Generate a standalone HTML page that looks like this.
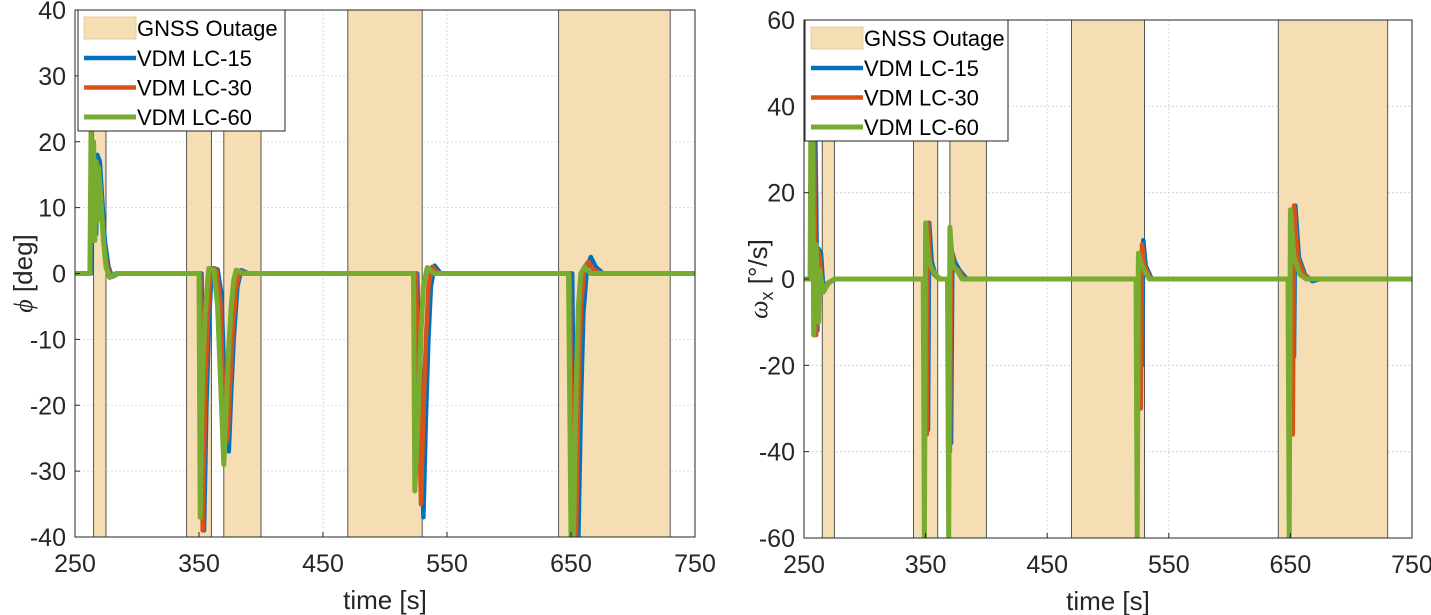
<!DOCTYPE html>
<html><head><meta charset="utf-8"><style>
html,body{margin:0;padding:0;background:#fff}
svg{display:block;font-family:"Liberation Sans",Arial,sans-serif}
</style></head><body>
<svg id="chart" width="1431" height="615"></svg>
<script>
const xTicks=[250,350,450,550,650,750];
const xTickLabels=["250","350","450","550","650","750"];
const outages=[[265,275],[340,360],[370,400],[470,530],[640,730]];
const leftYTicks=[40,30,20,10,0,-10,-20,-30,-40];
const rightYTicks=[60,40,20,0,-20,-40,-60];
const seriesNames=["VDM LC-15","VDM LC-30","VDM LC-60"];
const seriesColors=["#0072BD","#D95319","#77AC30"];
// roll angle phi [deg] -- [t, value]
const phi15=[[250,0],[263,0],[264,20],[265,5],[266,18],[267,6],[268,18],[270,17],[272,11],[274,5],[277,1],[280,-0.5],[285,0],[352,0],[354,-39],[355,-30],[356,-20],[358,-8],[360,0],[362,0.8],[365,0.6],[368,-3],[372,-24],[374,-27],[376,-18],[378,-10],[381,-2],[384,0.5],[390,0],[526,0],[531,-37],[533,-22],[535,-10],[537,-2],[540,1.2],[545,0],[651,0],[653,-40],[656,-40],[658,-20],[660,-6],[663,1],[666,2.5],[670,1],[676,0],[750,0]];
const phi30=[[250,0],[262,0],[263,21],[264,5],[265,19],[266,6],[267,17],[269,16],[271,11],[273,5],[276,1],[279,-0.5],[284,0],[351,0],[353,-39],[354,-28],[355,-18],[357,-7],[359,0],[361,0.8],[364,0.5],[367,-4],[371,-26],[373,-25],[375,-17],[377,-9],[380,-2],[383,0.4],[388,0],[525,0],[529,-35],[531,-21],[533,-10],[535,-2],[538,1],[543,0],[649,0],[651,-40],[654,-40],[656,-19],[658,-5],[661,1],[664,1.8],[668,0.6],[674,0],[750,0]];
const phi60=[[250,0],[262,0],[263,23],[264,5],[265,20],[266,5],[267,17],[268,8],[269,16],[271,11],[273,5],[275,1],[278,-0.6],[283,0],[350,0],[351,-37],[352,-25],[353,-15],[355,-6],[357,-1],[358,0.8],[362,0.5],[365,-5],[370,-29],[372,-20],[374,-11],[376,-5],[378,-1],[380,0.5],[386,0],[523,0],[524,-33],[526,-25],[527,-20],[529,-9],[531,-2],[534,0.9],[540,0],[648,0],[650,-40],[652,-40],[654,-18],[656,-5],[658,0],[661,1],[666,0],[750,0]];
// roll rate omega_x [deg/s]
const om15=[[250,0],[258,0],[259,40],[260,18],[261,-12],[262,7],[264,6],[266,-3],[270,-1],[276,0],[351,0],[352,-35],[353,13],[355,4],[358,1],[362,0],[370,0],[371,-38],[372,6],[374,4],[378,2],[384,0],[527,0],[528,-20],[529,9],[531,3],[536,0],[652,0],[653,-18],[654,17],[657,5],[662,1],[668,-0.5],[675,0],[750,0]];
const om30=[[250,0],[257,0],[258,40],[259,10],[260,-13],[261,7],[263,5],[265,-3],[269,-1],[275,0],[350,0],[351,-36],[352,13],[354,3],[357,1],[361,0],[369,0],[370,-40],[371,8],[373,3],[377,2],[382,0],[526,0],[527,-30],[528,8],[530,3],[535,0],[651,0],[652,-36],[653,17],[656,5],[661,1],[666,0],[750,0]];
const om60=[[250,0],[255,0],[256,60],[257,35],[258,-13],[260,8],[262,-10],[263,2],[264,0],[266,-3],[270,-1],[275,0],[348,0],[349,-60],[350,13],[352,5],[354,3],[358,1],[362,0],[368,0],[369,-60],[370,12],[372,3],[376,2],[380,0],[523,0],[524,-60],[525,6],[528,3],[534,0],[648,0],[649,-60],[650,16],[653,5],[658,1],[663,0],[750,0]];

const NS="http://www.w3.org/2000/svg";
const svg=document.getElementById('chart');
function mk(tag,attrs,parent){const e=document.createElementNS(NS,tag);for(const k in attrs)e.setAttribute(k,attrs[k]);(parent||svg).appendChild(e);return e;}

function panel(cfg){
  const {L,R,T,B,ymin,ymax,yTicks,series,legend,ylabel,name}=cfg;
  const g=mk('g',{});
  
  
  const sx=t=>L+(t-250)/(750-250)*(R-L);
  const sy=v=>T+(ymax-v)/(ymax-ymin)*(B-T);
  const clipId=name+'-clip';
  const cp=mk('clipPath',{id:clipId},g);mk('rect',{x:L,y:T,width:R-L,height:B-T},cp);
  xTicks.forEach(t=>{const l=mk('line',{x1:sx(t),x2:sx(t),y1:T,y2:B,stroke:'#d0d0d0','stroke-width':0.8,'stroke-dasharray':'2,2'},g);});
  yTicks.forEach(v=>{const l=mk('line',{x1:L,x2:R,y1:sy(v),y2:sy(v),stroke:'#d0d0d0','stroke-width':0.8,'stroke-dasharray':'2,2'},g);});
  outages.forEach(o=>{const r=mk('rect',{x:sx(o[0]),y:T,width:sx(o[1])-sx(o[0]),height:B-T,fill:'#F5DEB3',stroke:'#444','stroke-width':0.9},g);});
  const sg=mk('g',{'clip-path':'url(#'+clipId+')'},g);
  series.forEach((s,i)=>{const p=mk('polyline',{points:s.map(d=>sx(d[0]).toFixed(1)+','+sy(d[1]).toFixed(1)).join(' '),fill:'none',stroke:seriesColors[i],'stroke-width':i==2?5:4.5,'stroke-linejoin':'round','stroke-linecap':'round'},sg);});
  const ax=mk('rect',{x:L,y:T,width:R-L,height:B-T,fill:'none',stroke:'#262626','stroke-width':1},g);
  
  xTicks.forEach((t,i)=>{mk('line',{x1:sx(t),x2:sx(t),y1:B,y2:B-5,stroke:'#262626'},g);const tx=mk('text',{x:sx(t),y:B+35,'text-anchor':'middle','font-size':25,fill:'#262626'},g);tx.textContent=xTickLabels[i];});
  yTicks.forEach(v=>{mk('line',{x1:L,x2:L+5,y1:sy(v),y2:sy(v),stroke:'#262626'},g);const tx=mk('text',{x:L-9,y:sy(v)+9,'text-anchor':'end','font-size':25,fill:'#262626'},g);tx.textContent=String(v);});
  const xl=mk('text',{x:(L+R)/2,y:B+72,'text-anchor':'middle','font-size':26,fill:'#262626'},g);
  xl.textContent='time [s]';
  ylabel(g,sy);
  const lg=mk('g',{},g);
  mk('rect',{x:legend.x,y:legend.y,width:legend.w,height:121,fill:'#fff',stroke:'#262626','stroke-width':1},lg);
  mk('rect',{x:legend.x+6,y:legend.y+7,width:52,height:22,fill:'#F5DEB3',stroke:'#e8cfa0'},lg);
  const t0=mk('text',{x:legend.x+59,y:legend.y+26,'font-size':22,fill:'#000'},lg);t0.textContent='GNSS Outage';
  
  seriesNames.forEach((n,i)=>{const cy=legend.y+48+i*29.5;mk('line',{x1:legend.x+6,x2:legend.x+58,y1:cy,y2:cy,stroke:seriesColors[i],'stroke-width':i==2?5:4.5},lg);const t=mk('text',{x:legend.x+59,y:cy+8,'font-size':22,fill:'#000'},lg);t.textContent=n;});
}

panel({name:'roll-angle-panel',L:75,R:695,T:10,B:537,ymin:-40,ymax:40,yTicks:leftYTicks,series:[phi15,phi30,phi60],legend:{x:78,y:10,w:207},
 ylabel:(g,sy)=>{const t=mk('text',{transform:'translate(32,'+sy(0)+') rotate(-90)','text-anchor':'middle','font-size':26,fill:'#262626'},g);t.innerHTML='<tspan font-family="Liberation Serif" font-style="italic">ϕ</tspan> [deg]';}});
panel({name:'roll-rate-panel',L:804,R:1412,T:20,B:538,ymin:-60,ymax:60,yTicks:rightYTicks,series:[om15,om30,om60],legend:{x:805,y:20,w:203},
 ylabel:(g,sy)=>{const t=mk('text',{transform:'translate(767,'+sy(0)+') rotate(-90)','text-anchor':'middle','font-size':26,fill:'#262626'},g);t.innerHTML='<tspan font-family="Liberation Serif" font-style="italic">ω</tspan><tspan font-size="18" dy="6">x</tspan><tspan dy="-6"> [°/s]</tspan>';}});
</script>
</body></html>
